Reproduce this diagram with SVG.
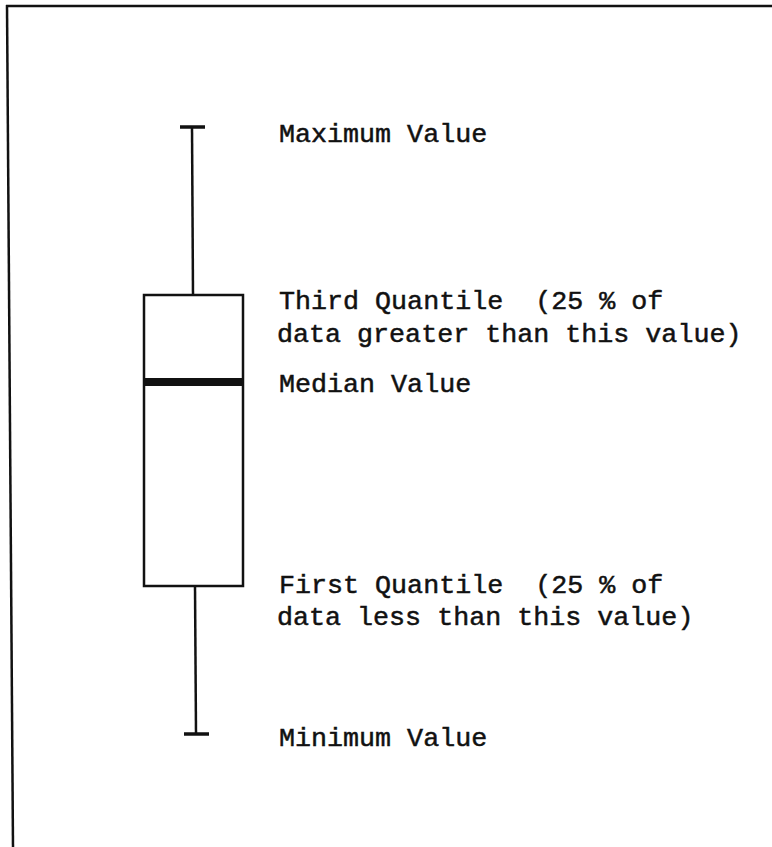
<svg xmlns="http://www.w3.org/2000/svg" width="772" height="847" viewBox="0 0 772 847">
  <style>
    .ln { stroke: #111; stroke-width: 2.5; fill: none; stroke-linecap: butt; }
    .cap { stroke: #111; stroke-width: 3.5; fill: none; }
    .lbl { font-family: "Liberation Mono", "DejaVu Sans Mono", monospace; font-size: 26.7px; fill: #111; stroke: #111; stroke-width: 0.5; white-space: pre; }
  </style>
  <rect x="0" y="0" width="772" height="847" fill="#ffffff"/>
  <g id="frame">
    <line class="ln" x1="6" y1="6" x2="772" y2="6"/>
    <line class="ln" x1="7" y1="5" x2="13" y2="847"/>
  </g>
  <g id="boxplot">
    <line class="cap" x1="180" y1="127" x2="205" y2="127"/>
    <line class="ln" x1="192" y1="127" x2="193" y2="295"/>
    <rect class="ln" x="144" y="295" width="99" height="291"/>
    <rect x="144" y="378" width="99" height="8" fill="#111"/>
    <line class="ln" x1="195" y1="586" x2="196" y2="734"/>
    <line class="cap" x1="184" y1="734" x2="209" y2="734"/>
  </g>
  <g id="labels" xml:space="preserve">
    <text class="lbl" x="279" y="142">Maximum Value</text>
    <text class="lbl" x="279" y="309">Third Quantile  (25 % of</text>
    <text class="lbl" x="277" y="342">data greater than this value)</text>
    <text class="lbl" x="279" y="392">Median Value</text>
    <text class="lbl" x="279" y="593">First Quantile  (25 % of</text>
    <text class="lbl" x="277" y="625">data less than this value)</text>
    <text class="lbl" x="279" y="746">Minimum Value</text>
  </g>
</svg>
